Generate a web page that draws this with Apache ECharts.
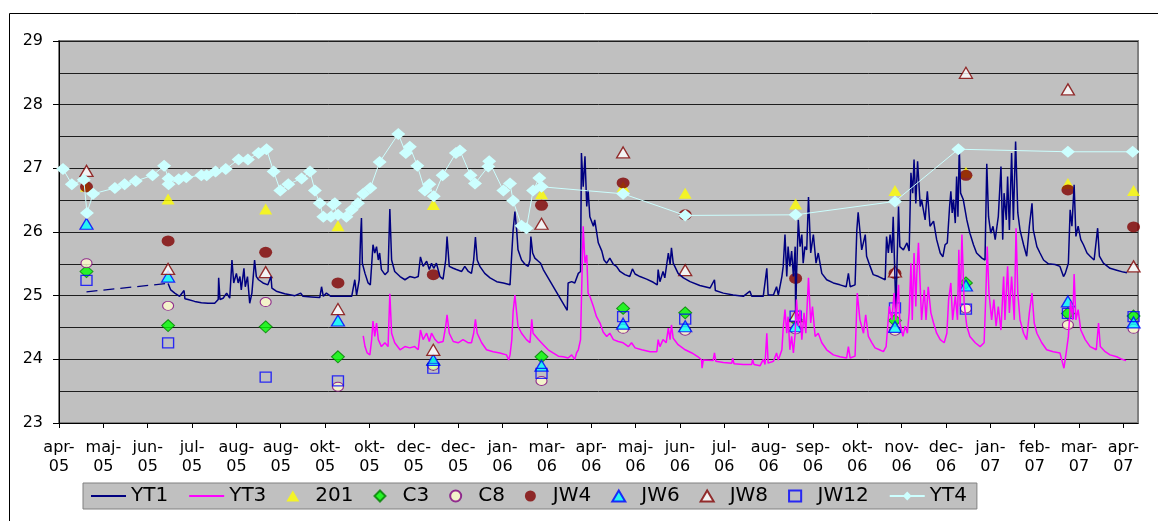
<!DOCTYPE html>
<html>
<head>
<meta charset="utf-8">
<script src="https://cdn.jsdelivr.net/npm/echarts@6/dist/echarts.min.js"></script>
<style>
  html, body { margin: 0; padding: 0; background: #fff; }
  #chart { width: 1158px; height: 521px; }
</style>
</head>
<body>
<div id="chart"></div>
<script>
// x = months since apr-05 (tick 0), y = temperature
const monthLabels = ['apr-05','maj-05','jun-05','jul-05','aug-05','aug-05','okt-05','okt-05','dec-05','dec-05',
  'jan-06','mar-06','apr-06','maj-06','jun-06','jul-06','aug-06','sep-06','okt-06','nov-06','dec-06',
  'jan-07','feb-07','mar-07','apr-07'];

// sampling rounds
const sampleX = [0.62, 2.46, 4.66, 6.29, 8.44, 10.88, 12.72, 14.12, 16.61, 18.85, 20.45, 22.75, 24.23];
const s201  = [26.72, 26.52, 26.36, 26.10, 26.43, 26.60, 26.71, 26.61, 26.44, 26.65, 26.94, 26.76, 26.65];
const sC3   = [25.38, 24.53, 24.51, 24.04, 23.92, 24.04, 24.80, 24.73, 24.62, 24.61, 25.20, 24.72, 24.68];
const sC8   = [25.51, 24.84, 24.90, 23.57, 23.90, 23.66, 24.48, 24.45, 24.47, 24.45, 24.80, 24.54, 24.48];
const sJW4  = [26.71, 25.86, 25.68, 25.20, 25.33, 26.42, 26.77, 26.27, 25.27, 25.35, 26.89, 26.66, 26.08];
const sJW6  = [26.13, 25.30, null, 24.61, 23.99, 23.90, 24.56, 24.52, 24.52, 24.51, 25.16, 24.91, 24.58];
const sJW8  = [26.96, 25.42, 25.37, 24.79, 24.15, 26.13, 27.25, 25.40, 24.68, 25.38, 28.50, 28.24, 25.46];
const sJW12 = [25.24, 24.26, 23.72, 23.66, 23.86, 23.78, 24.67, 24.63, 24.68, 24.81, 24.79, 24.72, 24.67];

// logger gap for YT1 (dashed)
const yt1Gap = [[0.62, 25.06], [2.42, 25.19]];

const yt1 = [
  [2.46,25.19],[2.52,25.09],[2.61,25.04],[2.72,24.99],[2.82,25.08],[2.84,24.95],[2.91,24.94],[3.06,24.91],
  [3.21,24.89],[3.36,24.88],[3.51,24.88],[3.59,24.94],[3.60,25.28],[3.63,24.94],[3.70,24.96],[3.78,25.04],
  [3.85,24.96],[3.90,25.56],[3.94,25.20],[4.00,25.35],[4.04,25.20],[4.08,25.30],[4.11,25.09],[4.17,25.43],
  [4.20,25.14],[4.25,25.30],[4.30,24.88],[4.35,25.04],[4.41,25.56],[4.45,25.30],[4.50,25.25],[4.60,25.20],
  [4.71,25.17],[4.78,25.30],[4.80,25.12],[4.90,25.07],[5.09,25.03],[5.32,25.00],[5.45,25.04],[5.50,24.99],
  [5.69,24.98],[5.88,24.97],[5.92,25.14],[5.96,24.99],[6.03,25.04],[6.13,24.99],[6.22,24.99],[6.41,24.99],
  [6.60,24.99],[6.67,25.25],[6.71,25.01],[6.77,25.25],[6.80,25.93],[6.82,26.22],[6.84,25.51],[6.90,25.35],
  [6.97,25.20],[7.02,25.17],[7.08,25.80],[7.12,25.67],[7.16,25.77],[7.20,25.56],[7.23,25.67],[7.27,25.41],
  [7.35,25.33],[7.42,25.38],[7.46,26.36],[7.50,25.56],[7.57,25.38],[7.69,25.30],[7.80,25.25],[7.91,25.30],
  [8.02,25.28],[8.10,25.30],[8.15,25.61],[8.21,25.46],[8.29,25.54],[8.35,25.41],[8.40,25.51],[8.45,25.43],
  [8.51,25.51],[8.59,25.30],[8.66,25.26],[8.72,25.56],[8.75,25.93],[8.80,25.46],[8.89,25.43],[8.96,25.41],
  [9.08,25.38],[9.15,25.46],[9.23,25.38],[9.30,25.35],[9.35,25.56],[9.39,25.92],[9.43,25.56],[9.49,25.46],
  [9.60,25.35],[9.72,25.28],[9.87,25.22],[10.02,25.20],[10.17,25.17],[10.21,25.67],[10.24,26.03],[10.28,26.32],
  [10.32,26.03],[10.35,25.72],[10.43,25.56],[10.51,25.49],[10.58,25.46],[10.62,25.56],[10.64,25.93],[10.68,25.67],
  [10.73,25.59],[10.81,25.54],[10.86,25.51],[10.92,25.41],[11.46,24.77],[11.48,25.20],[11.56,25.22],[11.63,25.20],
  [11.71,25.35],[11.76,25.38],[11.78,27.24],[11.82,26.71],[11.86,27.19],[11.90,26.40],[11.93,26.66],[11.97,26.24],
  [12.05,26.09],[12.08,26.19],[12.16,25.83],[12.24,25.70],[12.29,25.56],[12.35,25.51],[12.42,25.59],[12.50,25.49],
  [12.57,25.46],[12.65,25.38],[12.76,25.33],[12.87,25.30],[12.93,25.42],[12.99,25.34],[13.10,25.30],[13.25,25.26],
  [13.40,25.21],[13.49,25.17],[13.51,25.41],[13.55,25.22],[13.62,25.38],[13.66,25.28],[13.74,25.67],[13.78,25.49],
  [13.81,25.75],[13.85,25.51],[13.96,25.35],[14.08,25.28],[14.23,25.22],[14.45,25.16],[14.68,25.12],[14.78,25.25],
  [14.80,25.08],[14.98,25.04],[15.20,25.01],[15.43,24.99],[15.58,25.07],[15.62,24.99],[15.73,24.99],[15.88,24.99],
  [15.96,25.43],[15.99,25.01],[16.11,25.01],[16.18,25.14],[16.22,25.01],[16.30,25.30],[16.33,25.46],[16.37,25.96],
  [16.41,25.30],[16.44,25.77],[16.48,25.46],[16.52,25.70],[16.56,25.30],[16.60,25.77],[16.61,24.62],[16.63,25.30],
  [16.67,26.19],[16.71,25.77],[16.75,25.96],[16.78,25.51],[16.82,25.77],[16.86,25.72],[16.90,26.55],[16.95,25.67],
  [17.01,25.96],[17.07,25.51],[17.12,25.67],[17.20,25.35],[17.31,25.25],[17.46,25.20],[17.61,25.17],[17.75,25.14],
  [17.80,25.35],[17.84,25.14],[17.95,25.17],[17.99,26.03],[18.02,26.31],[18.10,25.72],[18.18,25.96],[18.21,25.62],
  [18.29,25.46],[18.36,25.33],[18.48,25.30],[18.51,25.28],[18.63,25.25],[18.66,25.93],[18.70,25.67],[18.74,25.96],
  [18.78,25.67],[18.81,26.24],[18.87,24.78],[18.93,26.40],[18.96,25.77],[19.04,25.72],[19.12,25.83],[19.17,25.70],
  [19.21,26.93],[19.25,26.61],[19.28,27.14],[19.32,26.45],[19.36,27.11],[19.42,26.40],[19.45,26.51],[19.53,26.19],
  [19.58,26.64],[19.64,26.09],[19.72,26.17],[19.79,25.88],[19.87,25.67],[19.93,25.61],[19.98,25.80],[20.03,25.83],
  [20.08,26.38],[20.11,26.64],[20.14,26.30],[20.17,26.51],[20.21,26.14],[20.24,26.87],[20.27,26.24],[20.30,27.32],
  [20.33,26.61],[20.39,26.51],[20.47,26.19],[20.54,25.98],[20.62,25.80],[20.69,25.67],[20.81,25.59],[20.88,25.56],
  [20.92,27.07],[20.96,26.24],[21.01,25.98],[21.06,26.09],[21.11,25.88],[21.15,26.09],[21.18,26.24],[21.24,27.03],
  [21.28,25.88],[21.31,26.61],[21.36,26.19],[21.39,26.87],[21.43,26.03],[21.48,27.24],[21.52,26.19],[21.57,27.42],
  [21.62,26.30],[21.67,26.03],[21.75,25.80],[21.82,25.62],[21.88,26.09],[21.94,26.45],[21.97,26.03],[22.05,25.77],
  [22.12,25.67],[22.20,25.56],[22.31,25.50],[22.46,25.49],[22.57,25.46],[22.65,25.30],[22.69,25.35],[22.76,25.51],
  [22.80,26.35],[22.84,26.09],[22.89,26.74],[22.93,25.93],[22.98,26.09],[23.04,25.88],[23.10,25.80],[23.18,25.67],
  [23.25,25.62],[23.34,25.56],[23.42,26.06],[23.46,25.62],[23.55,25.51],[23.70,25.43],[23.85,25.40],[24.00,25.37],
  [24.08,25.36]
];

const yt3 = [
  [6.86,24.37],[6.90,24.20],[6.95,24.10],[7.01,24.07],[7.05,24.31],[7.08,24.60],[7.12,24.36],[7.16,24.57],
  [7.20,24.31],[7.27,24.20],[7.35,24.26],[7.42,24.20],[7.46,25.03],[7.50,24.41],[7.57,24.26],[7.69,24.15],
  [7.80,24.20],[7.91,24.18],[8.02,24.20],[8.10,24.15],[8.15,24.46],[8.21,24.31],[8.29,24.41],[8.35,24.28],
  [8.40,24.41],[8.48,24.31],[8.55,24.26],[8.66,24.28],[8.72,24.52],[8.75,24.70],[8.80,24.41],[8.89,24.28],
  [9.00,24.26],[9.11,24.31],[9.23,24.26],[9.30,24.26],[9.35,24.41],[9.39,24.63],[9.43,24.41],[9.53,24.26],
  [9.64,24.15],[9.79,24.12],[9.94,24.10],[10.09,24.07],[10.14,23.99],[10.17,24.07],[10.21,24.31],[10.24,24.75],
  [10.28,25.01],[10.32,24.73],[10.35,24.52],[10.43,24.41],[10.54,24.31],[10.62,24.26],[10.66,24.63],[10.69,24.41],
  [10.81,24.31],[10.92,24.23],[11.03,24.15],[11.14,24.10],[11.26,24.05],[11.37,24.04],[11.48,24.02],[11.56,24.07],
  [11.63,24.00],[11.67,24.10],[11.71,24.15],[11.76,24.31],[11.78,24.94],[11.82,26.09],[11.86,25.51],[11.90,25.64],
  [11.93,25.04],[11.97,24.99],[12.05,24.83],[12.12,24.67],[12.20,24.57],[12.27,24.43],[12.35,24.36],[12.42,24.41],
  [12.50,24.31],[12.61,24.28],[12.72,24.26],[12.84,24.20],[12.91,24.26],[12.99,24.18],[13.14,24.15],[13.33,24.12],
  [13.48,24.12],[13.51,24.31],[13.55,24.20],[13.62,24.31],[13.69,24.26],[13.74,24.49],[13.78,24.31],[13.81,24.54],
  [13.85,24.33],[13.96,24.23],[14.12,24.15],[14.27,24.10],[14.41,24.04],[14.49,23.99],[14.50,23.86],[14.53,23.99],
  [14.75,23.98],[14.78,24.10],[14.81,23.97],[14.98,23.95],[15.17,23.94],[15.19,24.02],[15.22,23.93],[15.43,23.92],
  [15.62,23.92],[15.64,24.00],[15.67,23.92],[15.81,23.90],[15.88,24.00],[15.92,23.92],[15.96,24.41],[15.99,23.94],
  [16.11,23.97],[16.18,24.10],[16.22,23.99],[16.30,24.15],[16.33,24.49],[16.37,24.78],[16.41,24.41],[16.44,24.67],
  [16.48,24.15],[16.52,24.36],[16.56,24.10],[16.60,24.41],[16.63,24.94],[16.67,24.52],[16.71,24.78],[16.75,24.31],
  [16.80,24.73],[16.84,24.41],[16.90,25.28],[16.95,24.57],[16.99,24.83],[17.05,24.36],[17.12,24.41],[17.20,24.26],
  [17.31,24.15],[17.46,24.07],[17.61,24.04],[17.76,24.02],[17.80,24.20],[17.84,24.02],[17.95,24.05],[18.00,25.04],
  [18.06,24.62],[18.14,24.41],[18.19,24.70],[18.25,24.36],[18.33,24.26],[18.40,24.18],[18.50,24.15],[18.59,24.12],
  [18.65,24.20],[18.68,24.46],[18.72,24.83],[18.78,24.62],[18.83,25.04],[18.87,24.62],[18.93,25.17],[18.96,24.57],
  [19.03,24.36],[19.08,24.52],[19.13,24.41],[19.17,24.73],[19.21,25.51],[19.24,24.62],[19.28,25.67],[19.32,24.83],
  [19.34,25.30],[19.38,25.83],[19.42,25.14],[19.45,24.62],[19.51,25.09],[19.55,24.62],[19.60,25.14],[19.66,24.73],
  [19.72,24.57],[19.79,24.41],[19.87,24.31],[19.96,24.26],[20.02,24.41],[20.06,24.94],[20.11,25.20],[20.15,24.62],
  [20.21,24.99],[20.26,24.62],[20.29,25.72],[20.32,24.83],[20.36,25.96],[20.41,24.88],[20.47,24.52],[20.54,24.36],
  [20.66,24.26],[20.77,24.20],[20.86,24.26],[20.90,25.04],[20.93,25.77],[20.97,25.04],[21.03,24.62],[21.08,24.94],
  [21.13,24.52],[21.18,24.83],[21.24,24.46],[21.30,25.30],[21.33,24.62],[21.39,25.46],[21.43,24.73],[21.48,25.30],
  [21.54,24.62],[21.58,26.06],[21.62,25.04],[21.67,24.62],[21.75,24.41],[21.82,24.31],[21.88,24.73],[21.94,25.04],
  [21.99,24.57],[22.05,24.41],[22.16,24.26],[22.27,24.15],[22.42,24.12],[22.57,24.10],[22.63,23.94],[22.66,23.86],
  [22.71,24.10],[22.76,24.36],[22.81,24.91],[22.86,24.62],[22.89,25.34],[22.93,24.62],[22.98,24.78],[23.04,24.46],
  [23.14,24.31],[23.25,24.20],[23.39,24.15],[23.44,24.57],[23.48,24.20],[23.59,24.12],[23.70,24.07],[23.85,24.04],
  [23.97,24.00],[24.06,23.98]
];

const yt4 = [
  [0.09,26.99],[0.29,26.75],[0.56,26.82],[0.63,26.30],[0.77,26.60],[1.26,26.69],[1.48,26.75],[1.73,26.80],
  [2.11,26.89],[2.37,27.04],[2.47,26.84],[2.47,26.75],[2.70,26.83],[2.87,26.86],[3.21,26.89],[3.33,26.89],
  [3.53,26.95],[3.76,26.99],[4.05,27.14],[4.26,27.14],[4.50,27.24],[4.68,27.30],[4.84,26.95],[4.99,26.65],
  [5.17,26.75],[5.47,26.84],[5.66,26.95],[5.77,26.65],[5.88,26.45],[5.96,26.24],[6.13,26.24],[6.18,26.43],
  [6.22,26.45],[6.29,26.27],[6.48,26.24],[6.60,26.35],[6.74,26.45],[6.86,26.60],[7.02,26.69],[7.23,27.10],
  [7.65,27.54],[7.82,27.24],[7.91,27.34],[8.08,27.04],[8.25,26.65],[8.35,26.75],[8.45,26.56],[8.65,26.89],
  [8.95,27.24],[9.04,27.28],[9.28,26.89],[9.38,26.76],[9.68,27.03],[9.70,27.11],[10.02,26.65],[10.17,26.76],
  [10.24,26.49],[10.43,26.10],[10.54,26.06],[10.69,26.65],[10.83,26.85],[10.88,26.71],[12.72,26.60],[14.12,26.26],
  [16.61,26.27],[18.85,26.48],[20.28,27.30],[22.75,27.26],[24.21,27.26]
];

const FONT = 'DejaVu Sans';

// legend key shapes (kept in proportion inside the key box)
const triIcon = 'path://M0,11 L6.5,0 L13,11 Z';
const diaIcon = 'path://M6,0 L12,6 L6,12 L0,6 Z';
const boxIcon = 'path://M0,0 L11,0 L11,10 L0,10 Z';

function samplePoints(vals) {
  let pts = [];
  vals.forEach((v, i) => { if (v !== null) pts.push([sampleX[i], v]); });
  return pts;
}

function scatter(name, vals, symbol, size, itemStyle) {
  return {
    name: name,
    type: 'scatter',
    symbol: symbol,
    symbolSize: size,
    itemStyle: itemStyle,
    data: samplePoints(vals)
  };
}

const chart = echarts.init(document.getElementById('chart'), null, { renderer: 'canvas' });

chart.setOption({
  animation: false,
  backgroundColor: '#ffffff',
  textStyle: { fontFamily: FONT },
  graphic: [{
    type: 'rect',
    shape: { x: 9.5, y: 13.5, width: 1160, height: 520 },
    style: { fill: 'none', stroke: '#000', lineWidth: 1 },
    silent: true
  }],
  grid: {
    left: 59, right: 20, top: 41, bottom: 98,
    show: true,
    backgroundColor: '#C0C0C0',
    borderColor: '#808080',
    borderWidth: 2
  },
  legend: {
    data: [
      { name: 'YT1', itemStyle: { opacity: 0 } },
      { name: 'YT3', itemStyle: { opacity: 0 } },
      { name: '201', icon: triIcon },
      { name: 'C3', icon: diaIcon },
      { name: 'C8', icon: 'circle' },
      { name: 'JW4', icon: 'circle' },
      { name: 'JW6', icon: triIcon },
      { name: 'JW8', icon: triIcon },
      { name: 'JW12', icon: boxIcon },
      { name: 'YT4' }
    ],
    left: 83,
    top: 483,
    orient: 'horizontal',
    backgroundColor: '#C0C0C0',
    borderColor: '#808080',
    borderWidth: 1,
    padding: [3, 10, 3, 7],
    itemWidth: 35,
    itemHeight: 11,
    itemGap: 20,
    textStyle: { fontFamily: FONT, fontSize: 20, color: '#000' }
  },
  xAxis: {
    type: 'value',
    min: 0,
    max: 24.33,
    interval: 1,
    axisLine: { lineStyle: { color: '#000', width: 1 } },
    axisTick: {
      length: 5,
      lineStyle: { color: '#000' },
      customValues: monthLabels.map((m, i) => i)
    },
    axisLabel: {
      customValues: monthLabels.map((m, i) => i),
      formatter: (v) => {
        let lab = monthLabels[Math.round(v)];
        return lab ? lab.replace('-', '-\n') : '';
      },
      fontFamily: FONT,
      fontSize: 16,
      lineHeight: 19,
      color: '#000',
      margin: 15
    },
    splitLine: { show: false }
  },
  yAxis: {
    type: 'value',
    min: 23,
    max: 29,
    interval: 1,
    axisLine: { show: true, lineStyle: { color: '#000', width: 1 } },
    axisTick: { show: true, length: 6, lineStyle: { color: '#000' } },
    minorTick: { show: false, splitNumber: 2 },
    axisLabel: { fontFamily: FONT, fontSize: 16, color: '#000', margin: 16 },
    splitLine: { show: true, lineStyle: { color: '#1e1e1e', width: 1 } },
    minorSplitLine: { show: true, lineStyle: { color: '#1e1e1e', width: 1 } }
  },
  series: [
    {
      name: 'YT1', type: 'line', symbol: 'none', data: yt1,
      lineStyle: { color: '#000080', width: 1.5 }, itemStyle: { color: '#000080' }
    },
    {
      name: 'YT3', type: 'line', symbol: 'none', data: yt3,
      lineStyle: { color: '#FF00FF', width: 1.5 }, itemStyle: { color: '#FF00FF' }
    },
    {
      // dashed gap in the YT1 record
      name: 'YT1', type: 'line', symbol: 'none', data: yt1Gap,
      lineStyle: { color: '#000080', width: 1.2, type: [11, 6] }, itemStyle: { color: '#000080' }
    },
    scatter('201', s201, 'triangle', [13, 11], { color: '#FFFF00' }),
    scatter('C3', sC3, 'diamond', [13, 12], { color: '#00FF00', borderColor: '#008000', borderWidth: 1 }),
    scatter('C8', sC8, 'circle', [11, 9], { color: '#FFFFCC', borderColor: '#800080', borderWidth: 1 }),
    scatter('JW4', sJW4, 'circle', [13, 11], { color: '#800000' }),
    scatter('JW6', sJW6, 'triangle', [13, 11], { color: '#00FFFF', borderColor: '#0000FF', borderWidth: 1.3 }),
    scatter('JW8', sJW8, 'triangle', [13, 11], { color: '#FFFFFF', borderColor: '#800000', borderWidth: 1.3 }),
    scatter('JW12', sJW12, 'rect', [11, 10], { color: 'rgba(0,0,0,0)', borderColor: '#0000FF', borderWidth: 1.3 }),
    {
      name: 'YT4', type: 'line', symbol: 'diamond', symbolSize: [14, 12], showAllSymbol: true, data: yt4,
      lineStyle: { color: '#CCFFFF', width: 1 }, itemStyle: { color: '#CCFFFF' }
    }
  ]
});
</script>
</body>
</html>
